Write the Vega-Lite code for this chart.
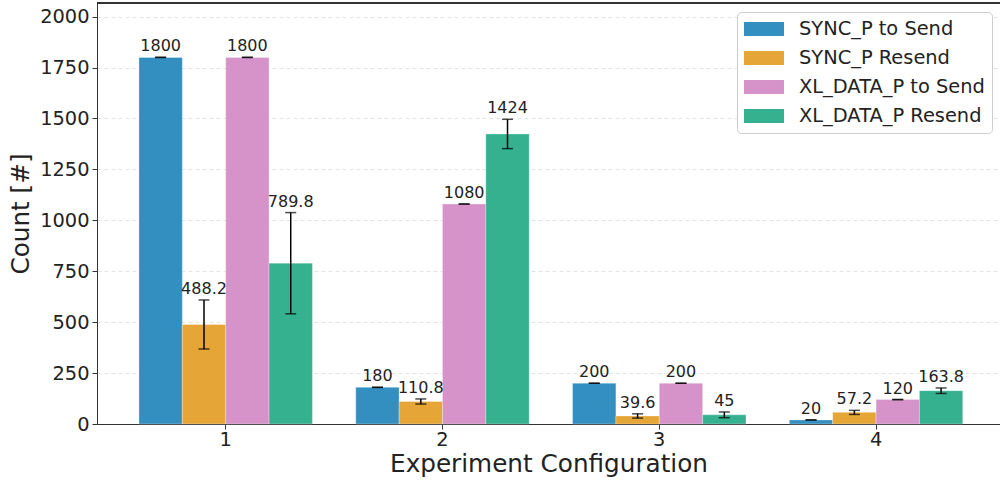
{
  "$schema": "https://vega.github.io/schema/vega-lite/v6.json",
  "width": 903,
  "height": 421,
  "autosize": {"type": "none"},
  "padding": {"left": 97, "top": 3, "right": 0, "bottom": 56},
  "background": "white",
  "config": {
    "font": "DejaVu Sans",
    "view": {"stroke": null},
    "axis": {
      "labelFont": "DejaVu Sans",
      "titleFont": "DejaVu Sans",
      "labelFontSize": 19.4,
      "titleFontSize": 24.7,
      "titleFontWeight": "normal",
      "labelColor": "#222",
      "titleColor": "#222",
      "domainColor": "#333",
      "tickColor": "#333",
      "tickSize": 5,
      "domainWidth": 1
    }
  },
  "data": {
    "values": [
      {"config": "1", "series": "SYNC_P to Send", "value": 1800, "lo": 1800, "hi": 1800, "label": "1800"},
      {"config": "1", "series": "SYNC_P Resend", "value": 488.2, "lo": 368, "hi": 609, "label": "488.2"},
      {"config": "1", "series": "XL_DATA_P to Send", "value": 1800, "lo": 1800, "hi": 1800, "label": "1800"},
      {"config": "1", "series": "XL_DATA_P Resend", "value": 789.8, "lo": 541, "hi": 1038, "label": "789.8"},
      {"config": "2", "series": "SYNC_P to Send", "value": 180, "lo": 180, "hi": 180, "label": "180"},
      {"config": "2", "series": "SYNC_P Resend", "value": 110.8, "lo": 98, "hi": 123, "label": "110.8"},
      {"config": "2", "series": "XL_DATA_P to Send", "value": 1080, "lo": 1080, "hi": 1080, "label": "1080"},
      {"config": "2", "series": "XL_DATA_P Resend", "value": 1424, "lo": 1352, "hi": 1496, "label": "1424"},
      {"config": "3", "series": "SYNC_P to Send", "value": 200, "lo": 200, "hi": 200, "label": "200"},
      {"config": "3", "series": "SYNC_P Resend", "value": 39.6, "lo": 29, "hi": 50, "label": "39.6"},
      {"config": "3", "series": "XL_DATA_P to Send", "value": 200, "lo": 200, "hi": 200, "label": "200"},
      {"config": "3", "series": "XL_DATA_P Resend", "value": 45, "lo": 31, "hi": 59, "label": "45"},
      {"config": "4", "series": "SYNC_P to Send", "value": 20, "lo": 20, "hi": 20, "label": "20"},
      {"config": "4", "series": "SYNC_P Resend", "value": 57.2, "lo": 47, "hi": 67, "label": "57.2"},
      {"config": "4", "series": "XL_DATA_P to Send", "value": 120, "lo": 120, "hi": 120, "label": "120"},
      {"config": "4", "series": "XL_DATA_P Resend", "value": 163.8, "lo": 150, "hi": 177, "label": "163.8"}
    ]
  },
  "layer": [
    {
      "mark": {"type": "bar", "stroke": "white", "strokeWidth": 0.5, "strokeOpacity": 0.6},
      "encoding": {
        "x": {
          "field": "config",
          "type": "nominal",
          "scale": {"paddingInner": 0.2, "paddingOuter": 0.1826, "align": 0.53},
          "axis": {"title": "Experiment Configuration", "labelAngle": 0, "labelPadding": 1, "titlePadding": 3, "grid": false}
        },
        "xOffset": {
          "field": "series",
          "type": "nominal",
          "sort": ["SYNC_P to Send", "SYNC_P Resend", "XL_DATA_P to Send", "XL_DATA_P Resend"],
          "scale": {"paddingInner": 0, "paddingOuter": 0}
        },
        "y": {
          "field": "value",
          "type": "quantitative",
          "scale": {"domain": [0, 2067], "nice": false},
          "axis": {
            "title": "Count [#]",
            "format": "d",
            "values": [0, 250, 500, 750, 1000, 1250, 1500, 1750, 2000],
            "grid": true,
            "gridColor": "#dcdcdc",
            "gridDash": [4, 3],
            "gridWidth": 0.8,
            "labelPadding": 3,
            "titlePadding": 6
          }
        },
        "color": {
          "field": "series",
          "type": "nominal",
          "sort": ["SYNC_P to Send", "SYNC_P Resend", "XL_DATA_P to Send", "XL_DATA_P Resend"],
          "scale": {
            "domain": ["SYNC_P to Send", "SYNC_P Resend", "XL_DATA_P to Send", "XL_DATA_P Resend"],
            "range": ["#348FC1", "#E5A537", "#D693C9", "#35B18F"]
          },
          "legend": {
            "title": null,
            "orient": "none",
            "legendX": 640,
            "legendY": 9,
            "padding": 7,
            "strokeColor": "#cccccc",
            "cornerRadius": 4,
            "fillColor": "white",
            "labelFont": "DejaVu Sans",
            "labelFontSize": 19.4,
            "labelLimit": 0,
            "labelColor": "#222",
            "labelOffset": 35,
            "rowPadding": 9,
            "symbolType": "M-1,-0.7H3V0.7H-1Z",
            "symbolSize": 400,
            "symbolStrokeWidth": 0,
            "symbolOpacity": 1
          }
        }
      }
    },
    {
      "mark": {"type": "rule", "color": "black", "strokeWidth": 1.5},
      "encoding": {
        "x": {"field": "config", "type": "nominal"},
        "xOffset": {"field": "series", "type": "nominal", "sort": ["SYNC_P to Send", "SYNC_P Resend", "XL_DATA_P to Send", "XL_DATA_P Resend"]},
        "y": {"field": "lo", "type": "quantitative"},
        "y2": {"field": "hi"}
      }
    },
    {
      "mark": {"type": "tick", "color": "black", "thickness": 1.5, "size": 11, "orient": "horizontal"},
      "encoding": {
        "x": {"field": "config", "type": "nominal"},
        "xOffset": {"field": "series", "type": "nominal", "sort": ["SYNC_P to Send", "SYNC_P Resend", "XL_DATA_P to Send", "XL_DATA_P Resend"]},
        "y": {"field": "lo", "type": "quantitative"}
      }
    },
    {
      "mark": {"type": "tick", "color": "black", "thickness": 1.5, "size": 11, "orient": "horizontal"},
      "encoding": {
        "x": {"field": "config", "type": "nominal"},
        "xOffset": {"field": "series", "type": "nominal", "sort": ["SYNC_P to Send", "SYNC_P Resend", "XL_DATA_P to Send", "XL_DATA_P Resend"]},
        "y": {"field": "hi", "type": "quantitative"}
      }
    },
    {
      "mark": {"type": "text", "fontSize": 16, "color": "#222", "baseline": "alphabetic", "dy": -6, "font": "DejaVu Sans"},
      "encoding": {
        "x": {"field": "config", "type": "nominal"},
        "xOffset": {"field": "series", "type": "nominal", "sort": ["SYNC_P to Send", "SYNC_P Resend", "XL_DATA_P to Send", "XL_DATA_P Resend"]},
        "y": {"field": "hi", "type": "quantitative"},
        "text": {"field": "label", "type": "nominal"}
      }
    },
    {
      "mark": {"type": "rule", "color": "#333", "strokeWidth": 1},
      "encoding": {"y": {"datum": 2067, "type": "quantitative"}}
    }
  ]
}
